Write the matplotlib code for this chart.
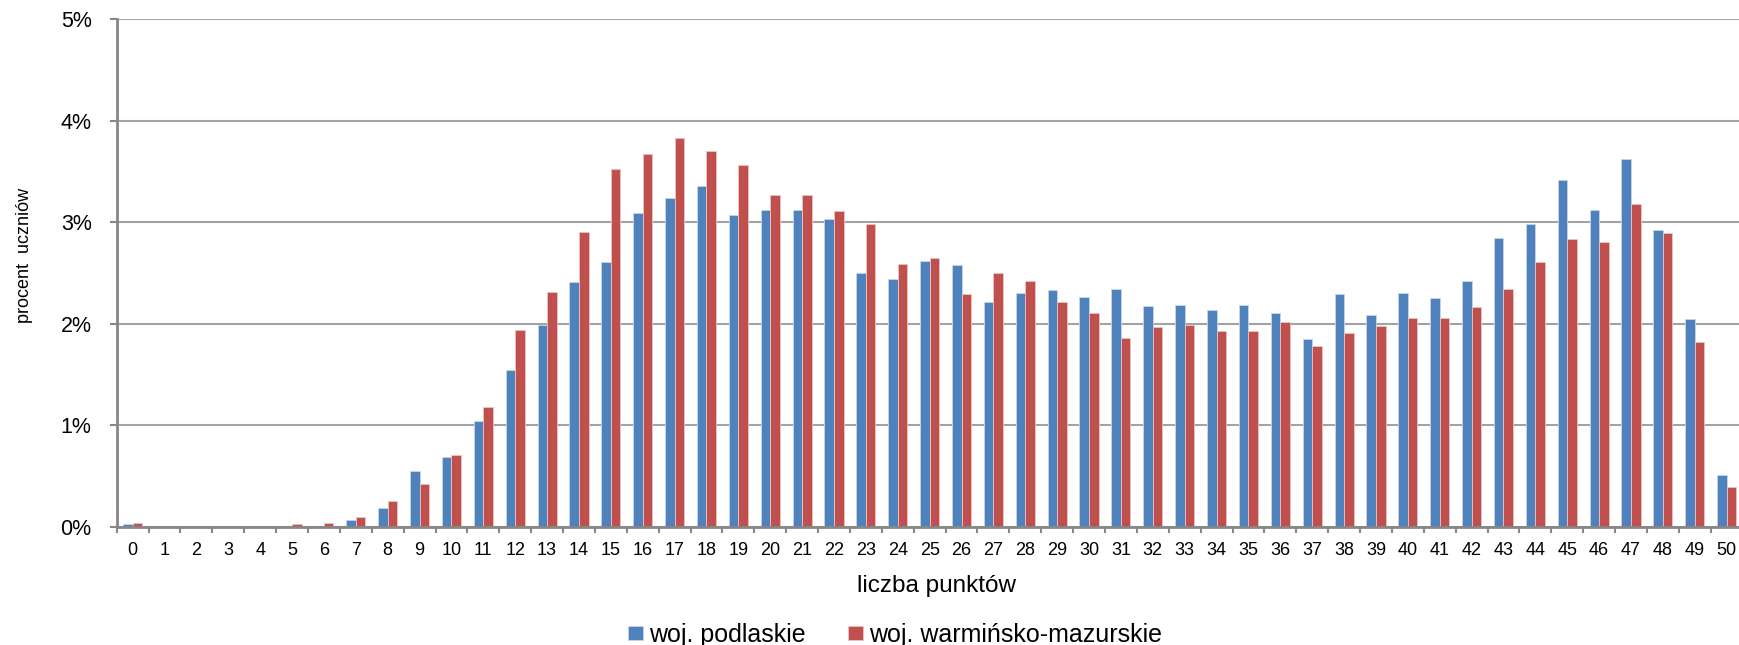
#!/usr/bin/env python3

import numpy as np
from matplotlib import pyplot as plt
from matplotlib.ticker import FuncFormatter, MultipleLocator

### points scored (0-50)
points = list(range(51))

### percent of students
podlaskie = [0.03, 0, 0, 0, 0, 0, 0, 0.07, 0.18, 0.55,
             0.69, 1.04, 1.54, 1.99, 2.41, 2.61, 3.09, 3.24, 3.36, 3.07,
             3.12, 3.12, 3.03, 2.50, 2.44, 2.62, 2.58, 2.21, 2.30, 2.33,
             2.26, 2.34, 2.17, 2.18, 2.13, 2.18, 2.10, 1.85, 2.29, 2.08,
             2.30, 2.25, 2.42, 2.84, 2.98, 3.41, 3.12, 3.62, 2.92, 2.05,
             0.51]
warminsko = [0.04, 0, 0, 0, 0, 0.03, 0.04, 0.10, 0.25, 0.42,
             0.71, 1.18, 1.94, 2.31, 2.90, 3.52, 3.67, 3.83, 3.70, 3.56,
             3.27, 3.27, 3.11, 2.98, 2.59, 2.65, 2.29, 2.50, 2.42, 2.21,
             2.10, 1.86, 1.97, 1.99, 1.93, 1.93, 2.02, 1.78, 1.91, 1.98,
             2.06, 2.06, 2.16, 2.34, 2.61, 2.83, 2.80, 3.18, 2.89, 1.82,
             0.39]

series_names = ['woj. podlaskie', 'woj. warmińsko-mazurskie']
y_ticks = [0, 1, 2, 3, 4, 5]

BLUE = '#4F81BD'
RED = '#C0504D'
AXIS_GREY = '#878787'
GRID_GREY = '#a3a3a3'

plt.rcParams['font.family'] = ['Liberation Sans', 'DejaVu Sans']


def plot(x, a, b):
    fig = plt.figure(figsize=(17.4, 6.45), dpi=100)
    ax = fig.add_axes([116.7 / 1740, 1 - 526.7 / 645, 1625.9 / 1740, (526.7 - 19) / 645])

    w = 0.30
    x = np.array(x)
    ax.bar(x - w / 2, a, width=w, color=BLUE, edgecolor='#c6d6eb', linewidth=0.6,
           label=series_names[0], zorder=3)
    ax.bar(x + w / 2, b, width=w, color=RED, edgecolor='#ecc4c3', linewidth=0.6,
           label=series_names[1], zorder=3)

    ax.set_xlim(-0.5, len(x) - 0.5)
    ax.set_ylim(y_ticks[0], y_ticks[-1])

    # gridlines like excel
    ax.set_yticks(y_ticks)
    ax.yaxis.set_major_formatter(FuncFormatter(lambda v, _: f'{v:.0f}%'))
    ax.grid(axis='y', color=GRID_GREY, linewidth=1.5, zorder=0)
    ax.tick_params(axis='y', length=5, width=1.5, color=AXIS_GREY, pad=13, labelsize=15.5)

    # category ticks sit between groups, labels in the middle
    ax.xaxis.set_major_locator(MultipleLocator(1, offset=0.5))
    ax.xaxis.set_major_formatter(FuncFormatter(lambda v, _: ''))
    ax.set_xticks(x, minor=True)
    ax.set_xticklabels([str(p) for p in x], minor=True)
    ax.tick_params(axis='x', which='major', length=4, width=1.5, color=AXIS_GREY)
    ax.tick_params(axis='x', which='minor', length=0, pad=11, labelsize=13)

    for s in ['top', 'right']:
        ax.spines[s].set_visible(False)
    for s in ['left', 'bottom']:
        ax.spines[s].set_color(AXIS_GREY)
        ax.spines[s].set_linewidth(2)
        ax.spines[s].set_zorder(4)

    fig.text(25 / 1740, 1 - 255 / 645, 'procent  uczniów', rotation=90,
             ha='center', va='center', fontsize=13)
    fig.text(937 / 1740, 1 - 586 / 645, 'liczba punktów', ha='center', va='center', fontsize=17.5)

    fig.legend(loc='center', bbox_to_anchor=(895 / 1740, 1 - 635 / 645), ncol=2, frameon=False,
               fontsize=18, handlelength=0.6, handleheight=0.45, handletextpad=0.25,
               columnspacing=1.7, borderpad=0, borderaxespad=0)
    return fig, ax


def main():
    fig, ax = plot(points, podlaskie, warminsko)
    fig.savefig('out.png', dpi=100)


if __name__ == "__main__":
    main()
